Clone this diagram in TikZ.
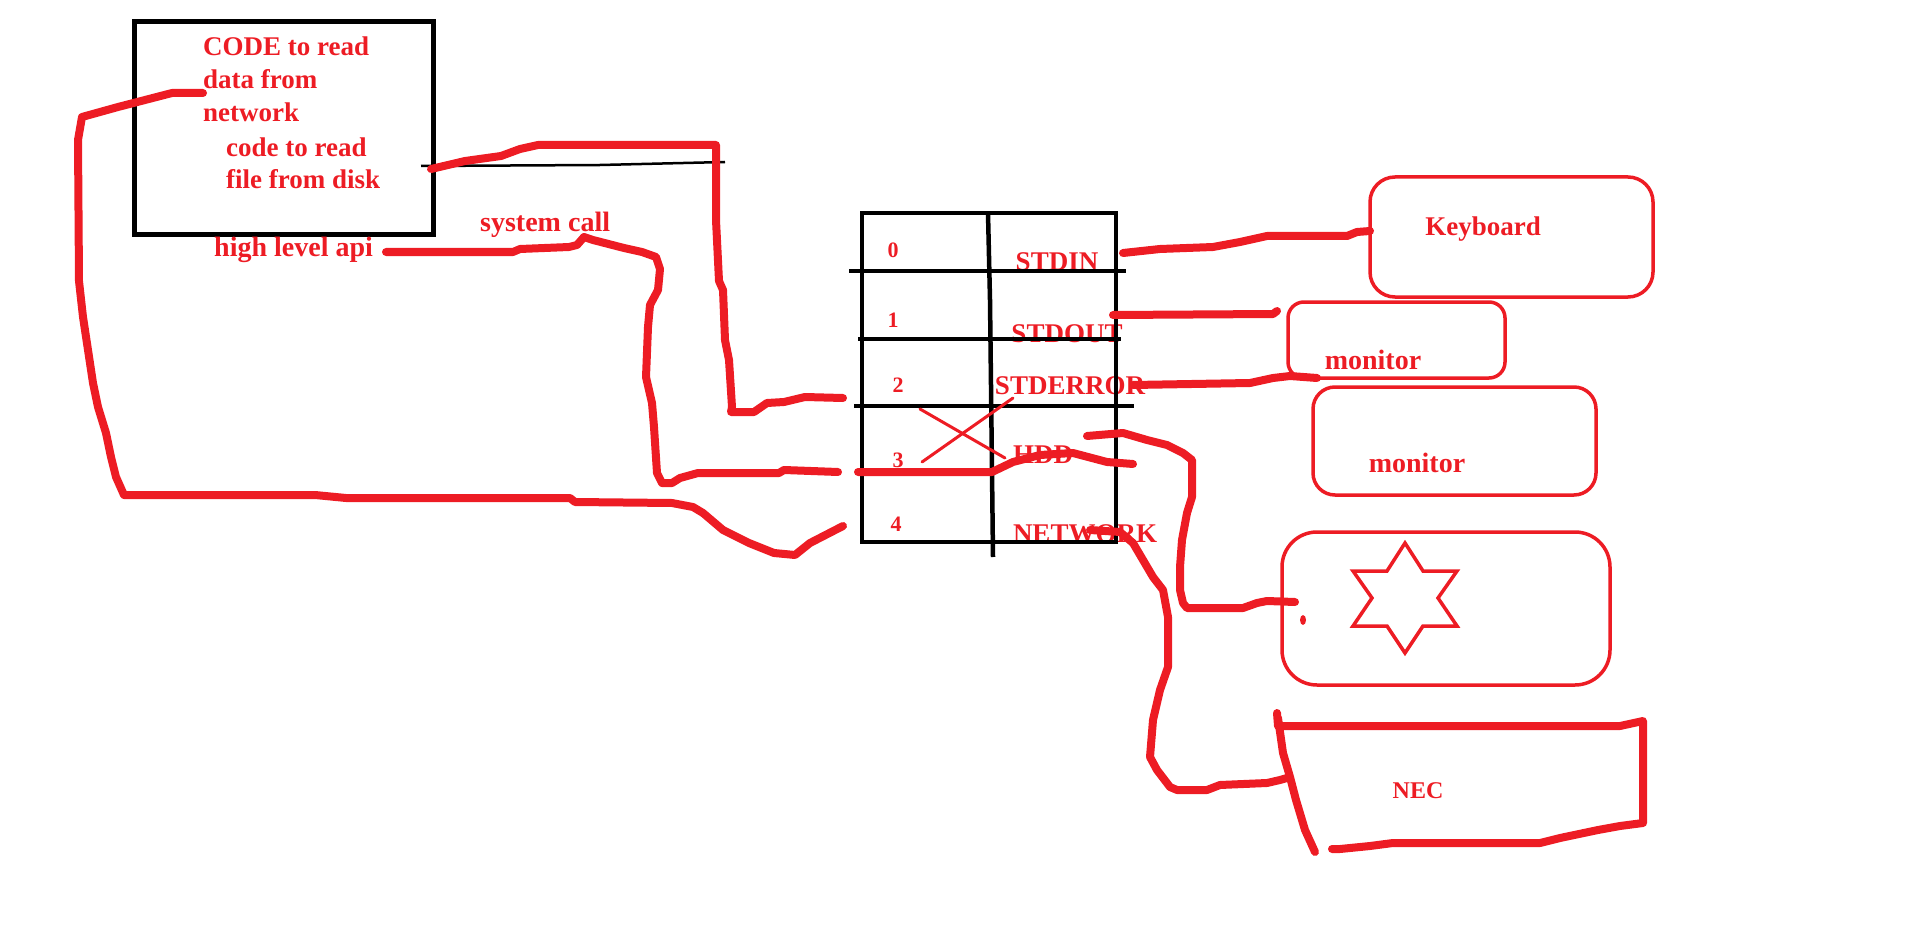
\documentclass[tikz,border=0pt]{standalone}
\usepackage{fontspec}
\setmainfont{Liberation Serif}
\definecolor{pred}{HTML}{ED1C24}
\begin{document}
\begin{tikzpicture}[x=1pt,y=-1pt,
  wire/.style={draw=pred,line width=8pt,line cap=round,line join=round},
  redthin/.style={draw=pred,line width=3pt,line cap=round},
  blkline/.style={draw=black,line width=4.5pt},
  blkbox/.style={draw=black,line width=4.5pt,inner sep=0pt,outer sep=0pt,anchor=north west},
  devbox/.style={draw=pred,line width=3.5pt,inner sep=0pt,outer sep=0pt},
  lbl/.style={text=pred,font=\fontsize{27}{33}\selectfont\bfseries,inner sep=0pt},
  num/.style={text=pred,font=\fontsize{22}{26}\selectfont\bfseries,inner sep=0pt,anchor=base}]
\useasboundingbox (0,0) rectangle (1917,952);

% ---------- program box ----------
\node[blkbox,line width=5pt,minimum width=299pt,minimum height=213pt] (prog) at (134,22) {};
\node[lbl,anchor=base west] (t1) at (203,56) {CODE to read};
\node[lbl,anchor=base west] (t2) at (203,89) {data from};
\node[lbl,anchor=base west] (t3) at (203,122) {network};
\node[lbl,anchor=base west] (t4) at (226,157) {code to read};
\node[lbl,anchor=base west] (t5) at (226,189) {file from disk};
\node[lbl,anchor=base west,font=\fontsize{28}{33}\selectfont\bfseries] (api) at (214,257) {high level api};
\node[lbl,anchor=base west,font=\fontsize{28}{33}\selectfont\bfseries] (sys) at (480,232) {system call};
\draw[black,line width=2.5pt] (421,166) -- (600,165) -- (725,162);

% ---------- file descriptor table ----------
\node[num] (n0) at (893,258) {0};
\node[num] (n1) at (893,327) {1};
\node[num] (n2) at (898,392) {2};
\node[num] (n3) at (898,467) {3};
\node[num] (n4) at (896,531) {4};
\node[lbl,anchor=base] (stdin) at (1057,270) {STDIN};
\node[lbl,anchor=base] (stdout) at (1067,342) {STDOUT};
\node[lbl,anchor=base] (stderr) at (1070,394) {STDERROR};
\node[lbl,anchor=base] (hdd) at (1043,463) {HDD};
\node[lbl,anchor=base] (net) at (1085,542) {NETWORK};

\node[blkbox,minimum width=254pt,minimum height=329pt] (fdt) at (862,213) {};
\draw[blkline] (988,213) -- (990,300) -- (993,557);
\draw[blkline] (849,271) -- (1126,271);
\draw[blkline] (858,339) -- (1121,339);
\draw[blkline] (854,406) -- (1134,406);
\draw[redthin] (920,409) -- (1005,458);
\draw[redthin] (922,462) -- (1013,398);

% ---------- devices ----------
\node[devbox,rounded corners=25pt,minimum width=283pt,minimum height=120pt] (kbd) at (1511.5,237) {};
\node[lbl,anchor=base] (kbdt) at (1483,236) {Keyboard};
\node[devbox,rounded corners=16pt,minimum width=217pt,minimum height=76pt] (mon1) at (1396.5,340) {};
\node[lbl,anchor=base,font=\fontsize{28}{33}\selectfont\bfseries] (mon1t) at (1373,369) {monitor};
\node[devbox,rounded corners=22pt,minimum width=283pt,minimum height=108pt] (mon2) at (1454.5,441) {};
\node[lbl,anchor=base,font=\fontsize{28}{33}\selectfont\bfseries] (mon2t) at (1417,472) {monitor};
\node[devbox,rounded corners=35pt,minimum width=328pt,minimum height=153pt] (disk) at (1446,608.5) {};
\draw[pred,line width=3.5pt,line join=miter] (1405,543) -- (1423,571) -- (1457,571) -- (1438,598) -- (1457,626)
  -- (1423,626) -- (1405,653) -- (1387,626) -- (1353,626) -- (1372,598) -- (1353,571) -- (1387,571) -- cycle;
\fill[pred] (1303,620) ellipse [x radius=3pt,y radius=5pt];

% NEC box (hand drawn)
\draw[wire] (1277,713) -- (1278,726) -- (1620,726) -- (1643,721) -- (1643,823) -- (1620,826) -- (1598,830)
  -- (1560,838) -- (1540,843) -- (1393,843) -- (1370,846) -- (1340,849) -- (1332,849);
\draw[wire] (1278,718) -- (1283,753) -- (1290,777) -- (1296,800) -- (1305,830) -- (1315,852);
\node[lbl,font=\fontsize{24}{28}\selectfont\bfseries,anchor=base] (nect) at (1418,798) {NEC};

% ---------- connectors ----------
\coordinate (a0) at (203,93);
\coordinate (a1) at (843,526);
\draw[wire] (a0) -- (172,93) -- (145,100) -- (118,107) -- (82,117) -- (78,140) -- (79,281) -- (83,317)
  -- (88,350) -- (93,383) -- (98,407) -- (106,433) -- (111,457) -- (116,477) -- (124,495)
  -- (315,495) -- (346,498) -- (570,498) -- (575,502) -- (672,503) -- (693,507) -- (703,513)
  -- (723,530) -- (749,543) -- (774,553) -- (795,555) -- (810,543) -- (a1);

\coordinate (b0) at (431,169);
\coordinate (b1) at (843,398);
\draw[wire] (b0) -- (465,161) -- (501,156) -- (520,149) -- (538,145) -- (716,145) -- (716,220) -- (719,281)
  -- (723,290) -- (725,340) -- (729,360) -- (732,407) -- (731,412) -- (754,412) -- (767,403)
  -- (784,402) -- (805,397) -- (b1);

\coordinate (c0) at (386,252);
\coordinate (c1) at (838,472);
\draw[wire] (c0) -- (513,252) -- (520,249) -- (569,247) -- (577,245) -- (584,237) -- (593,240) -- (624,248)
  -- (642,252) -- (656,257) -- (660,269) -- (658,290) -- (650,305) -- (648,327) -- (646,377)
  -- (652,403) -- (654,427) -- (657,473) -- (662,483) -- (672,483) -- (680,478) -- (698,473)
  -- (779,473) -- (784,470) -- (c1);

\coordinate (d0) at (858,472);
\coordinate (d1) at (1133,464);
\draw[wire] (d0) -- (992,472) -- (1013,462) -- (1040,455) -- (1073,453) -- (1107,462) -- (d1);

\coordinate (e0) at (1087,436);
\coordinate (e1) at (1295,602);
\draw[wire] (e0) -- (1123,433) -- (1147,440) -- (1167,445) -- (1183,453) -- (1192,460) -- (1192,497)
  -- (1187,513) -- (1182,540) -- (1180,567) -- (1180,590) -- (1183,603) -- (1187,608)
  -- (1243,608) -- (1257,603) -- (1267,601) -- (e1);

\coordinate (f0) at (1090,530);
\coordinate (f1) at (1287,778);
\draw[wire] (f0) -- (1120,532) -- (1133,543) -- (1143,560) -- (1153,577) -- (1163,590) -- (1168,617)
  -- (1168,667) -- (1160,690) -- (1153,720) -- (1150,757) -- (1157,770) -- (1170,787) -- (1177,790)
  -- (1207,790) -- (1220,785) -- (1267,783) -- (1280,780) -- (f1);

\coordinate (g0) at (1123,253);
\coordinate (g1) at (1370,231);
\draw[wire] (g0) -- (1160,249) -- (1213,247) -- (1240,242) -- (1267,236) -- (1347,236) -- (1357,232) -- (g1);

\coordinate (h0) at (1113,315);
\coordinate (h1) at (1277,311);
\draw[wire] (h0) -- (1273,314) -- (h1);

\coordinate (i0) at (1133,385);
\coordinate (i1) at (1317,378);
\draw[wire] (i0) -- (1250,383) -- (1273,378) -- (1290,376) -- (i1);
\end{tikzpicture}
\end{document}
